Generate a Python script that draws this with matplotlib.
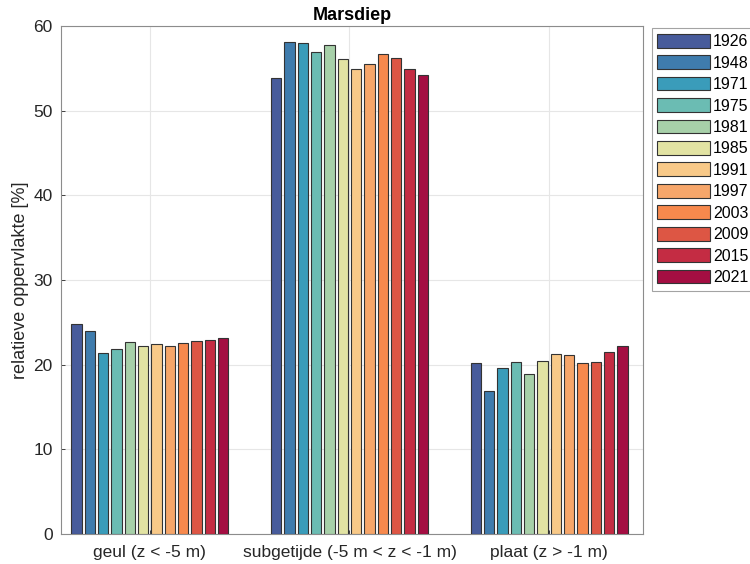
import numpy as np
import matplotlib
matplotlib.use('Agg')
import matplotlib.pyplot as plt
from matplotlib.patches import Patch

plt.rcParams['font.family'] = ['Liberation Sans', 'DejaVu Sans']

# Data
categories = ['geul (z < -5 m)', 'subgetijde (-5 m < z < -1 m)', 'plaat (z > -1 m)']
years = ['1926', '1948', '1971', '1975', '1981', '1985', '1991', '1997', '2003', '2009', '2015', '2021']
geul = [24.8, 24.0, 21.35, 21.85, 22.7, 22.2, 22.4, 22.2, 22.5, 22.8, 22.9, 23.1]
subgetijde = [53.85, 58.1, 58.0, 56.95, 57.7, 56.1, 54.95, 55.5, 56.7, 56.25, 54.95, 54.2]
plaat = [20.25, 16.85, 19.55, 20.3, 18.9, 20.4, 21.3, 21.1, 20.2, 20.3, 21.5, 22.25]
colors = ['#475b9b', '#3f7cad', '#3a9cba', '#6bbcb3', '#a7d0a9', '#e2e3a3',
          '#f8c988', '#f6a66a', '#f7894d', '#dd5644', '#c42c43', '#a40e42']

values = np.array([geul, subgetijde, plaat])

fig = plt.figure(figsize=(7.5, 5.64), dpi=100)
ax = fig.add_axes([0.0813, 0.0532, 0.7760, 0.9008])

n = len(years)
step = 0.0667
width = 0.052
x = np.arange(1, len(categories) + 1)
for i in range(n):
    offset = (i - (n - 1) / 2) * step
    ax.bar(x + offset, values[:, i], width=width, color=colors[i],
           edgecolor='#333333', linewidth=0.8, zorder=3, label=years[i])

ax.set_xlim(0.555, 3.47)
ax.set_ylim(0, 60)
ax.set_xticks(x)
ax.set_xticklabels(categories)
ax.set_yticks(range(0, 61, 10))
ax.tick_params(direction='in', length=3, labelsize=12.5, colors='#262626', width=0.6)
ax.tick_params(axis='x', pad=8)
ax.tick_params(axis='y', pad=6)
ax.grid(True, color='#e6e6e6', linewidth=0.8, zorder=0)
for s in ax.spines.values():
    s.set_color('#8c8c8c')
    s.set_linewidth(0.8)
ax.set_ylabel('relatieve oppervlakte [%]', fontsize=13, color='#262626', labelpad=3)
ax.set_title('Marsdiep', fontsize=13, fontweight='bold', pad=4)

handles = [Patch(facecolor=colors[i], edgecolor='#333333', linewidth=0.8) for i in range(n)]
leg = fig.legend(handles, years, loc='upper left', bbox_to_anchor=(0.869, 0.950),
                 fontsize=11.5, frameon=True, fancybox=False, edgecolor='#8c8c8c',
                 handlelength=3.3, handleheight=0.95, handletextpad=0.2,
                 labelspacing=0.38, borderpad=0.35, borderaxespad=0.0)
leg.get_frame().set_linewidth(0.8)

fig.savefig('out.png', dpi=100)
